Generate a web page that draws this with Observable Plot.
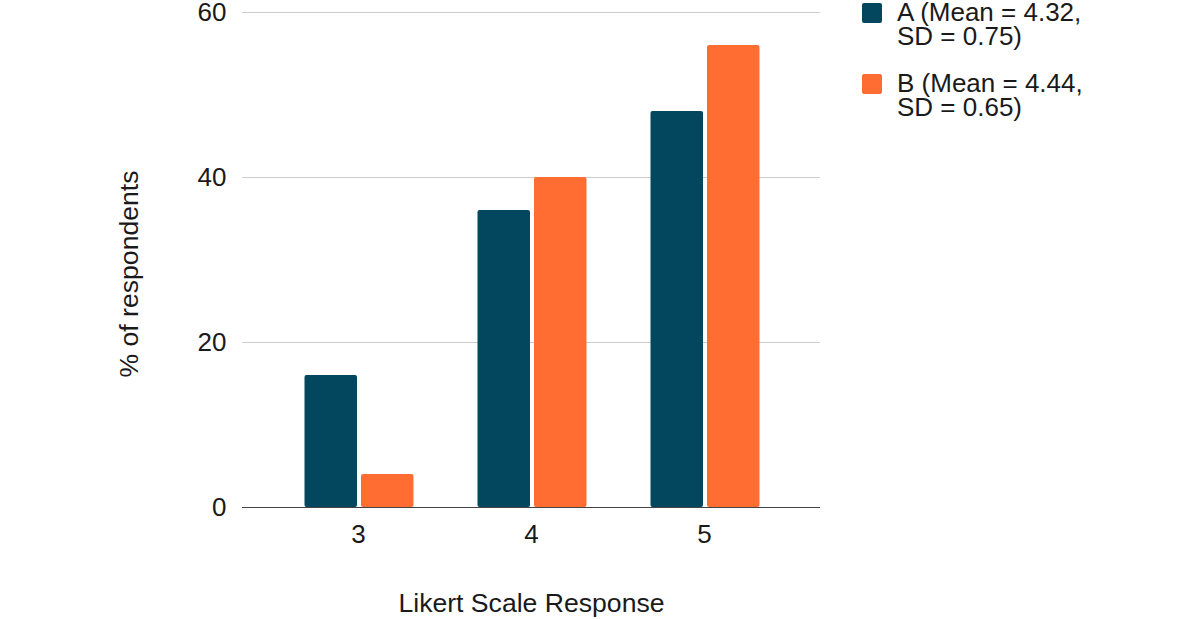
<!DOCTYPE html>
<html>
<head>
<meta charset="utf-8">
<script src="https://cdn.jsdelivr.net/npm/d3@7"></script>
<script src="https://cdn.jsdelivr.net/npm/@observablehq/plot@0.6"></script>
<style>
  body { margin: 0; background: #fff; font-family: "Liberation Sans", Arial, sans-serif; }
  #wrap { position: relative; width: 1200px; height: 619px; overflow: hidden; }
  #legend { position: absolute; left: 862px; top: 0px; font-size: 26px; line-height: 24px; color: #1a1a1a; white-space: nowrap; }
  .item { display: flex; align-items: flex-start; margin-bottom: 23px; }
  .sw { width: 20px; height: 20px; border-radius: 2px; margin-top: 3px; margin-right: 15px; flex: none; }
</style>
</head>
<body>
<div id="wrap"><div id="legend"></div></div>
<script>
// ---- data ----
const responses = ["3", "4", "5"];
const seriesKeys = ["A", "B"];
const seriesNames = ["A (Mean = 4.32, SD = 0.75)", "B (Mean = 4.44, SD = 0.65)"];
const valuesA = [16, 36, 48];
const valuesB = [4, 40, 56];
const yTicks = [0, 20, 40, 60];
const colors = ["#02475E", "#FF6D33"];
const xTitle = "Likert Scale Response";
const yTitle = "% of respondents";

const dataA = responses.map((r, i) => ({response: r, series: "A", value: valuesA[i]}));
const dataB = responses.map((r, i) => ({response: r, series: "B", value: valuesB[i]}));

// bar placement within each response band (style only)
const insetsA = {insetLeft: 33, insetRight: 87.5};
const insetsB = {insetLeft: 89.5, insetRight: 31};

const chart = Plot.plot({
  width: 1200,
  height: 619,
  marginLeft: 242,
  marginRight: 380,
  marginTop: 12,
  marginBottom: 112,
  style: {fontFamily: "'Liberation Sans', Arial, sans-serif", fontSize: "26px", color: "#1a1a1a", background: "transparent", overflow: "visible"},
  x: {type: "band", domain: responses, paddingInner: 0, paddingOuter: 0.1705, round: false, label: null},
  y: {domain: [0, 60], label: null},
  color: {domain: seriesKeys, range: colors},
  marks: [
    Plot.gridY(yTicks.filter(d => d > 0), {stroke: "#cccccc", strokeOpacity: 1, strokeWidth: 1}),
    Plot.axisY(yTicks, {tickSize: 0, tickPadding: 16, label: null, fontSize: 26}),
    Plot.axisX({tickSize: 0, tickPadding: 17, label: null, fontSize: 26}),
    Plot.barY(dataA, {x: "response", y: "value", fill: "series", rx: 2, ...insetsA}),
    Plot.barY(dataB, {x: "response", y: "value", fill: "series", rx: 2, ...insetsB}),
    Plot.ruleY([0], {stroke: "#444", strokeWidth: 1.2}),
    Plot.text([xTitle], {text: d => d, frameAnchor: "bottom", textAnchor: "middle", lineAnchor: "middle", dy: 96, fontSize: 26.6, fill: "#1a1a1a"}),
    Plot.text([yTitle], {text: d => d, frameAnchor: "left", textAnchor: "middle", lineAnchor: "middle", rotate: -90, dx: -113, dy: 14, fontSize: 26.6, fill: "#1a1a1a"})
  ]
});
document.getElementById("wrap").prepend(chart);

const legend = document.getElementById("legend");
seriesNames.forEach((name, i) => {
  const item = document.createElement("div");
  item.className = "item";
  const sw = document.createElement("div");
  sw.className = "sw";
  sw.style.background = colors[i];
  const label = document.createElement("div");
  label.innerHTML = name.replace(", ", ",<br>");
  item.append(sw, label);
  legend.append(item);
});
</script>
</body>
</html>
